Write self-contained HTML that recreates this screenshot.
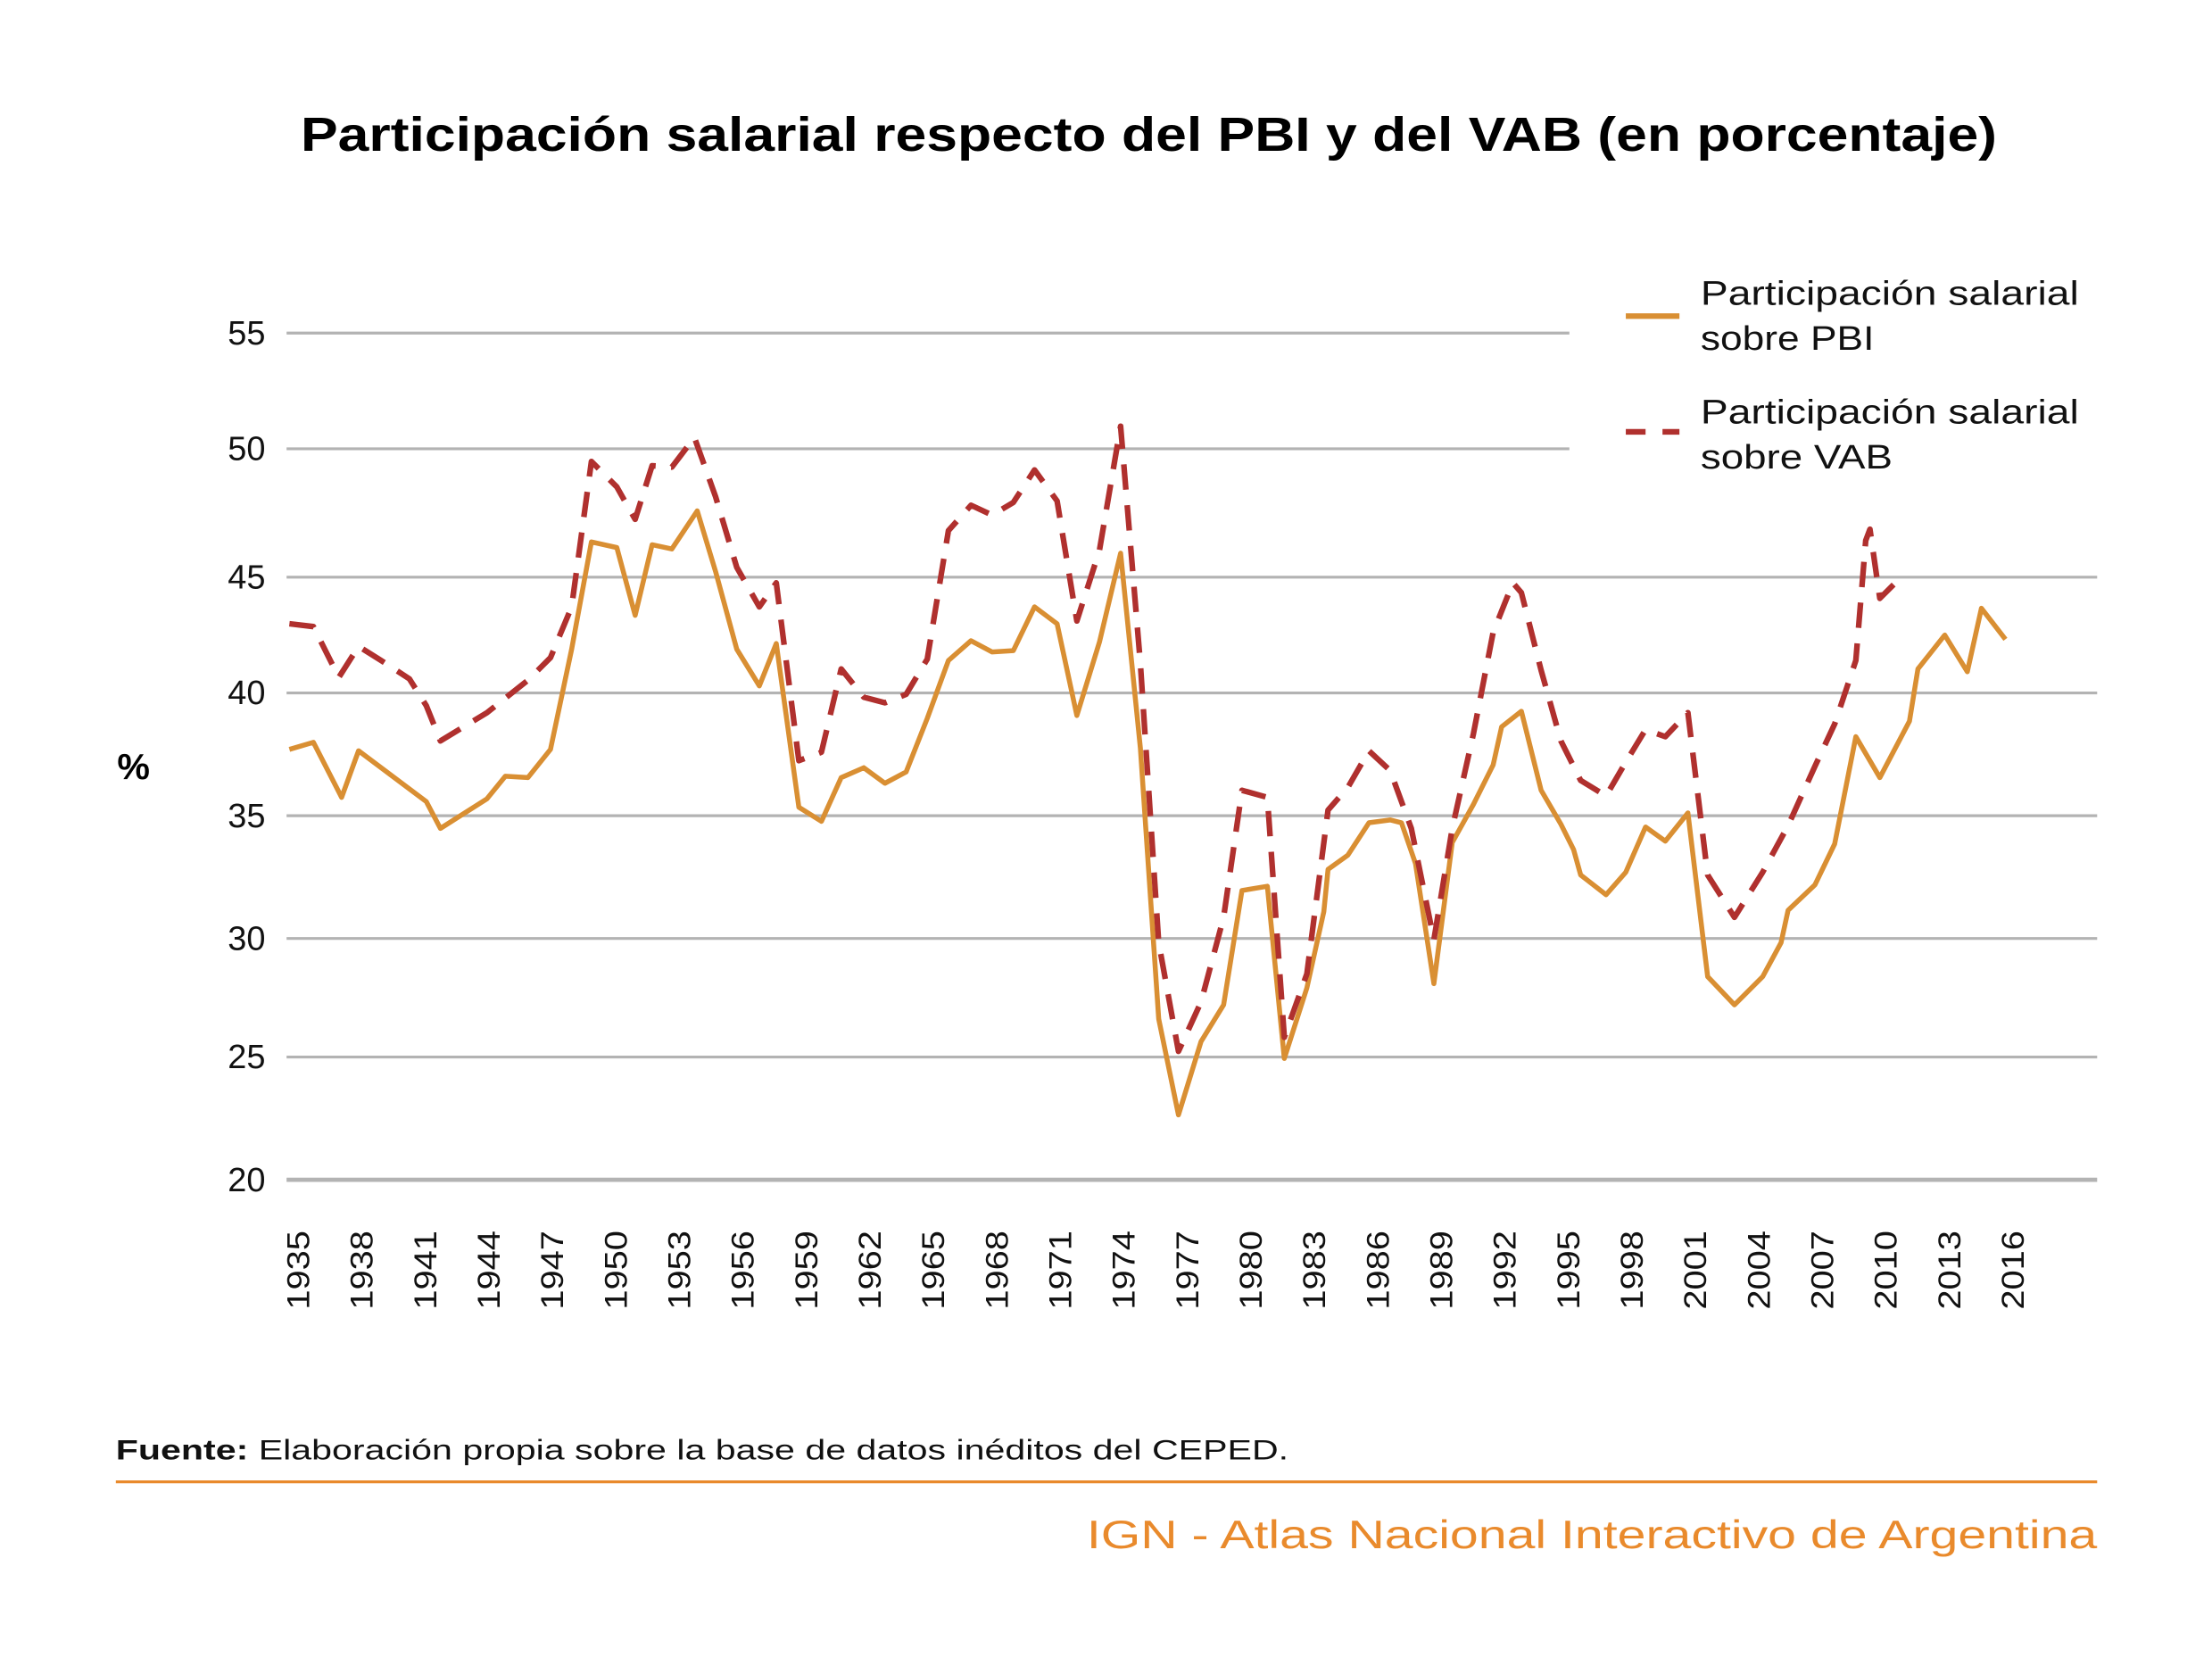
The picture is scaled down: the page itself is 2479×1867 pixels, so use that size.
<!DOCTYPE html>
<html><head><meta charset="utf-8"><style>
html,body{margin:0;padding:0;background:#fff}
svg{display:block}
text{font-family:"Liberation Sans",sans-serif}
</style></head><body>
<svg width="2479" height="1867" viewBox="0 0 1567.3 1180.5" xmlns="http://www.w3.org/2000/svg">
<text x="213" y="107" textLength="1202" lengthAdjust="spacingAndGlyphs" font-size="34" font-weight="bold" fill="#000">Participación salarial respecto del PBI y del VAB (en porcentaje)</text>
<g stroke="#b3b3b3" stroke-width="2">
<line x1="203" y1="236" x2="1112" y2="236"/>
<line x1="203" y1="318" x2="1112" y2="318"/>
<line x1="203" y1="409" x2="1486" y2="409"/>
<line x1="203" y1="491" x2="1486" y2="491"/>
<line x1="203" y1="578" x2="1486" y2="578"/>
<line x1="203" y1="665" x2="1486" y2="665"/>
<line x1="203" y1="749" x2="1486" y2="749"/>
<line x1="203" y1="836" x2="1486" y2="836" stroke-width="3"/>
</g>
<g font-size="24" fill="#111" text-anchor="end">
<text x="188" y="244">55</text><text x="188" y="326">50</text><text x="188" y="417">45</text>
<text x="188" y="499">40</text><text x="188" y="586">35</text><text x="188" y="673">30</text>
<text x="188" y="757">25</text><text x="188" y="844">20</text>
</g>
<text x="83" y="552" font-size="26" font-weight="bold" fill="#000">%</text>
<g font-size="22" fill="#111" text-anchor="end">
<text transform="translate(219,872) rotate(-90)" textLength="56" lengthAdjust="spacingAndGlyphs">1935</text>
<text transform="translate(264,872) rotate(-90)" textLength="56" lengthAdjust="spacingAndGlyphs">1938</text>
<text transform="translate(309,872) rotate(-90)" textLength="56" lengthAdjust="spacingAndGlyphs">1941</text>
<text transform="translate(354,872) rotate(-90)" textLength="56" lengthAdjust="spacingAndGlyphs">1944</text>
<text transform="translate(399,872) rotate(-90)" textLength="56" lengthAdjust="spacingAndGlyphs">1947</text>
<text transform="translate(444,872) rotate(-90)" textLength="56" lengthAdjust="spacingAndGlyphs">1950</text>
<text transform="translate(489,872) rotate(-90)" textLength="56" lengthAdjust="spacingAndGlyphs">1953</text>
<text transform="translate(534,872) rotate(-90)" textLength="56" lengthAdjust="spacingAndGlyphs">1956</text>
<text transform="translate(579,872) rotate(-90)" textLength="56" lengthAdjust="spacingAndGlyphs">1959</text>
<text transform="translate(624,872) rotate(-90)" textLength="56" lengthAdjust="spacingAndGlyphs">1962</text>
<text transform="translate(669,872) rotate(-90)" textLength="56" lengthAdjust="spacingAndGlyphs">1965</text>
<text transform="translate(714,872) rotate(-90)" textLength="56" lengthAdjust="spacingAndGlyphs">1968</text>
<text transform="translate(759,872) rotate(-90)" textLength="56" lengthAdjust="spacingAndGlyphs">1971</text>
<text transform="translate(804,872) rotate(-90)" textLength="56" lengthAdjust="spacingAndGlyphs">1974</text>
<text transform="translate(849,872) rotate(-90)" textLength="56" lengthAdjust="spacingAndGlyphs">1977</text>
<text transform="translate(894,872) rotate(-90)" textLength="56" lengthAdjust="spacingAndGlyphs">1980</text>
<text transform="translate(939,872) rotate(-90)" textLength="56" lengthAdjust="spacingAndGlyphs">1983</text>
<text transform="translate(984,872) rotate(-90)" textLength="56" lengthAdjust="spacingAndGlyphs">1986</text>
<text transform="translate(1029,872) rotate(-90)" textLength="56" lengthAdjust="spacingAndGlyphs">1989</text>
<text transform="translate(1074,872) rotate(-90)" textLength="56" lengthAdjust="spacingAndGlyphs">1992</text>
<text transform="translate(1119,872) rotate(-90)" textLength="56" lengthAdjust="spacingAndGlyphs">1995</text>
<text transform="translate(1164,872) rotate(-90)" textLength="56" lengthAdjust="spacingAndGlyphs">1998</text>
<text transform="translate(1209,872) rotate(-90)" textLength="56" lengthAdjust="spacingAndGlyphs">2001</text>
<text transform="translate(1254,872) rotate(-90)" textLength="56" lengthAdjust="spacingAndGlyphs">2004</text>
<text transform="translate(1299,872) rotate(-90)" textLength="56" lengthAdjust="spacingAndGlyphs">2007</text>
<text transform="translate(1344,872) rotate(-90)" textLength="56" lengthAdjust="spacingAndGlyphs">2010</text>
<text transform="translate(1389,872) rotate(-90)" textLength="56" lengthAdjust="spacingAndGlyphs">2013</text>
<text transform="translate(1434,872) rotate(-90)" textLength="56" lengthAdjust="spacingAndGlyphs">2016</text>
</g>
<polyline fill="none" stroke="#d98f33" stroke-width="3.5" stroke-linejoin="round" points="205,531 222,526 242,565 254,532 302,568 312,587 345,566 358,550 374,551 390,531 405,460 419,384 437,388 450,436 462,386 476,389 494,362 507,405 522,460 538,486 550,456 566,572 582,582 596,551 612,544 627,555 642,547 657,509 672,468 688,454 703,462 718,461 733,430 749,442 763,507 779,455 794,392 808,530 821,722 835,790 851,738 867,712 880,631 898,628 910,750 926,700 938,646 941,616 955,606 970,583 985,581 993,583 1003,612 1016,697 1029,597 1044,570 1058,542 1064,515 1078,504 1092,560 1106,584 1115,602 1120,620 1138,634 1152,618 1166,586 1180,596 1196,576 1210,692 1229,712 1249,692 1262,668 1267,645 1286,627 1300,598 1315,522 1332,551 1353,511 1359,474 1378,450 1394,476 1404,431 1421,453"/>
<polyline fill="none" stroke="#b0302e" stroke-width="4" stroke-dasharray="18,11" stroke-linejoin="round" points="205,442 222,444 240,480 254,458 270,468 290,481 302,500 312,525 345,505 374,482 390,466 405,430 419,327 437,345 450,368 462,330 476,331 492,310 507,352 522,402 538,430 550,413 566,539 582,533 596,474 612,494 627,498 642,492 657,467 672,376 688,358 703,365 718,356 733,333 749,355 763,440 779,390 794,302 808,470 821,668 835,745 851,710 867,650 880,560 898,565 910,735 926,690 941,574 955,558 970,532 985,546 1000,587 1016,666 1029,587 1044,520 1058,448 1072,413 1078,420 1092,475 1106,525 1120,553 1138,564 1152,540 1166,517 1180,522 1196,505 1210,620 1229,650 1249,618 1267,585 1286,543 1300,513 1315,468 1322,383 1325,375 1332,424 1345,411"/>
<line x1="1152" y1="224" x2="1190" y2="224" stroke="#d98f33" stroke-width="4"/>
<line x1="1152" y1="306" x2="1190" y2="306" stroke="#b0302e" stroke-width="4" stroke-dasharray="14,12"/>
<g font-size="24" fill="#111" lengthAdjust="spacingAndGlyphs">
<text x="1205" y="216" textLength="268" lengthAdjust="spacingAndGlyphs">Participación salarial</text>
<text x="1205" y="248" textLength="123" lengthAdjust="spacingAndGlyphs">sobre PBI</text>
<text x="1205" y="300" textLength="268" lengthAdjust="spacingAndGlyphs">Participación salarial</text>
<text x="1205" y="332" textLength="136" lengthAdjust="spacingAndGlyphs">sobre VAB</text>
</g>
<text x="82" y="1034" font-size="20" fill="#111" textLength="831" lengthAdjust="spacingAndGlyphs"><tspan font-weight="bold">Fuente:</tspan> Elaboración propia sobre la base de datos inéditos del CEPED.</text>
<line x1="82" y1="1050" x2="1486" y2="1050" stroke="#e98a2c" stroke-width="2"/>
<text x="770" y="1097" font-size="28" fill="#e98a2c" textLength="716" lengthAdjust="spacingAndGlyphs">IGN - Atlas Nacional Interactivo de Argentina</text>
</svg>
</body></html>
